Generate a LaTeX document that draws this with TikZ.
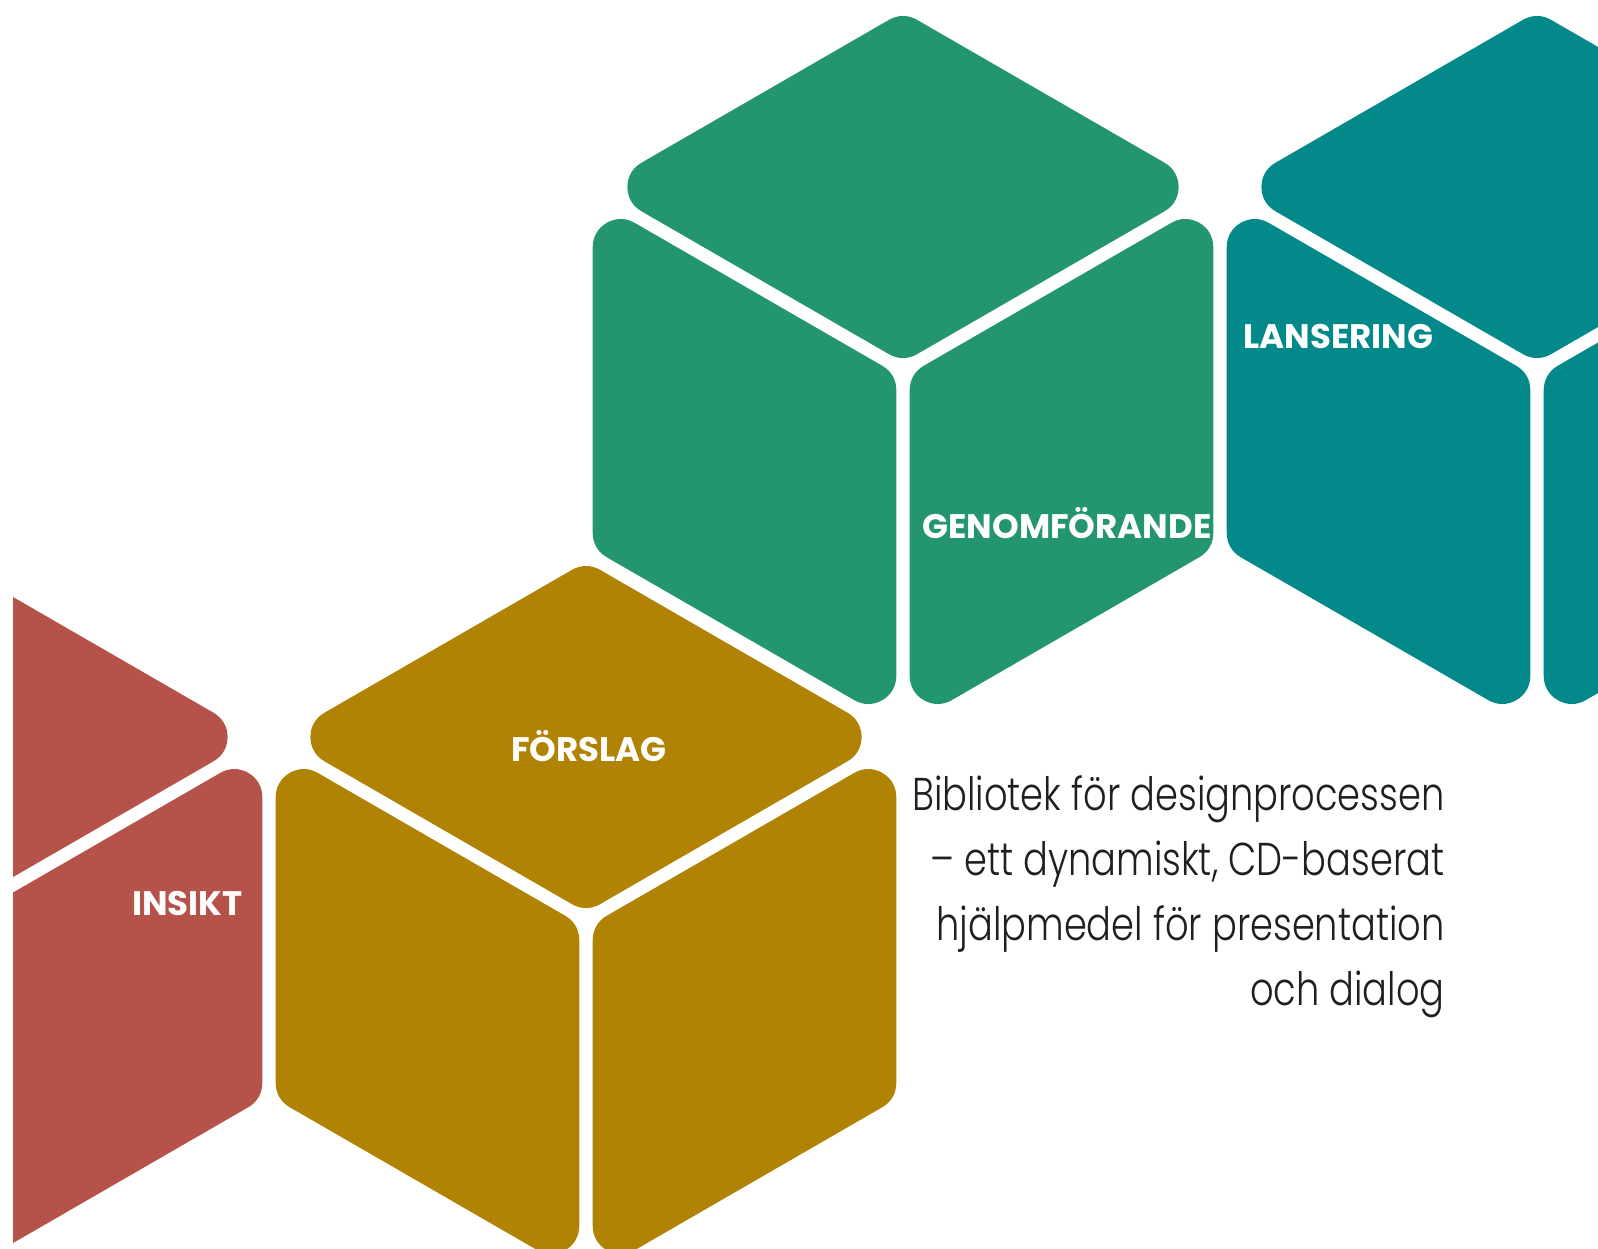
\documentclass[tikz,border=0pt]{standalone}
\usepackage{fontspec}
\newfontfamily\bodyfont{Poppins Light}[FakeStretch=0.8]
\newfontfamily\tagfont{Poppins Bold}
\definecolor{insikt}{HTML}{B5534A}
\definecolor{forslag}{HTML}{B08304}
\definecolor{genom}{HTML}{239570}
\definecolor{lansering}{HTML}{03898A}
\begin{document}
\begin{tikzpicture}[
      x=0.5pt, y=-0.5pt,
      face/.style={fill=#1, draw=#1, line width=28pt, line join=round},
      tag/.style={font=\tagfont\fontsize{17pt}{17pt}\selectfont, text=white, inner sep=0pt},
      blurb/.style={font=\bodyfont\fontsize{23pt}{32pt}\selectfont, text=black!88, inner sep=0pt}
    ]
      \useasboundingbox (0,0) rectangle (1598,1248);
      \begin{scope}
        \clip (13,0) rectangle (1598,1248);
        \foreach \cx/\cy/\col in {-48/920/insikt, 586/920/forslag, 903/370/genom, 1537/370/lansering} {
          \begin{scope}[shift={(\cx,\cy)}]
            % top, left and right face
            \filldraw[face=\col, scale around={0.781:(0,-183)}]
              (0,-366) -- (317,-183) -- (0,0) -- (-317,-183) -- cycle;
            \filldraw[face=\col, scale around={0.781:(-158.5,91.5)}]
              (-317,-183) -- (0,0) -- (0,366) -- (-317,183) -- cycle;
            \filldraw[face=\col, scale around={0.781:(158.5,91.5)}]
              (0,0) -- (317,-183) -- (317,183) -- (0,366) -- cycle;
          \end{scope}
        }
      \end{scope}
      \node[tag, anchor=base east] (insikt-tag) at (243,915) {INSIKT};
      \node[tag, anchor=base] (forslag-tag) at (589,761) {FÖRSLAG};
      \node[tag, anchor=base west] (genom-tag) at (922,538) {GENOMFÖRANDE};
      \node[tag, anchor=base west] (lansering-tag) at (1243,348) {LANSERING};
      \foreach \yy/\txt [count=\i] in {810/{Bibliotek för designprocessen},
          875/{– ett dynamiskt, CD-baserat},
          940/{hjälpmedel för presentation}, 1005/{och dialog}} {
        \node[blurb, anchor=base east] (blurb\i) at (1445,\yy) {\txt};
      }
    \end{tikzpicture}
\end{document}
